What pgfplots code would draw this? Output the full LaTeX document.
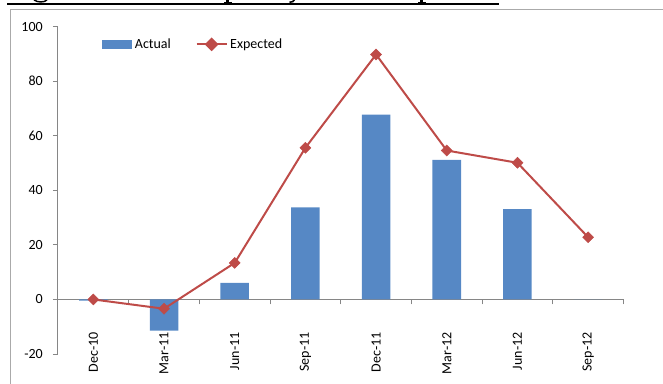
\documentclass[border=0pt]{standalone}
\usepackage{fontspec}
\setmainfont{Carlito}
\usepackage{pgfplots}
\pgfplotsset{compat=1.18}
\definecolor{barblue}{RGB}{86,136,197}
\definecolor{linered}{RGB}{190,75,72}
\definecolor{axisgray}{RGB}{134,134,134}
\definecolor{framegray}{RGB}{170,170,170}

\begin{document}
\fontsize{10.5pt}{12pt}\selectfont
\begin{tikzpicture}[x=0.75pt,y=-0.75pt]
\useasboundingbox (0,0) rectangle (663,383);
\clip (0,0) rectangle (663,383);
% chart frame
\draw[framegray, line width=0.75pt] (10,9.5) rectangle (700,420);
% rule under the heading, with the feet of its descenders
\draw[black, line width=1.6pt] (7,4) -- (499,4);
\draw[black, line width=1.1pt] (34,0) .. controls (38,2.6) and (44,2.6) .. (47,0);
\fill[black] (226,-1) rectangle (229,3);
\fill[black] (223.5,2) rectangle (232,3.5);
\draw[black, line width=1.2pt] (295,-1) .. controls (294,1.5) and (292,2.3) .. (289.5,2.3);
\fill[black] (420,-1) rectangle (423,3);
\fill[black] (417.5,2) rectangle (426,3.5);

\begin{axis}[
  at={(43.5pt,-265.5pt)}, anchor=south west,
  scale only axis, width=424.1pt, height=245.5pt,
  xmin=-0.5, xmax=7.5, ymin=-20, ymax=100,
  axis x line=middle, axis y line=left,
  axis line style={-, axisgray, line width=0.75pt},
  hide obscured x ticks=false, hide obscured y ticks=false,
  xtick={-0.5,0.5,...,7.5}, xticklabels={},
  ytick={-20,0,...,100},
  tick align=outside, major tick length=3.75pt,
  tick style={axisgray, line width=0.75pt},
  yticklabel style={anchor=east, inner sep=0pt, xshift=-7.5pt},
  /pgf/number format/assume math mode=true,
  clip=false,
  legend style={at={(0.0778,0.946)}, anchor=west, draw=none, fill=none,
    inner sep=0pt, legend columns=2,
    nodes={inner sep=1pt},
    /tikz/every odd column/.append style={column sep=1pt},
    /tikz/every even column/.append style={column sep=17.5pt}},
  legend cell align=left,
]
\addplot[ybar, bar width=21.4pt, bar shift=0pt, fill=barblue, draw=none,
  legend image code/.code={\fill[barblue] (0pt,-3.4pt) rectangle (22.5pt,3.4pt);}]
  coordinates {(0,-0.4) (1,-11.4) (2,6.1) (3,33.8) (4,67.8) (5,51.2) (6,33.1) (7,0)};
\addlegendentry{Actual}
\addplot[linered, line width=1.5pt, mark=square*,
  mark size=2.9pt, mark options={rotate=45, solid, fill=linered, line width=0.4pt},
  legend image code/.code={\draw[linered, line width=1.5pt] (0pt,0pt) -- (22.5pt,0pt);
    \fill[linered, rotate around={45:(11.25pt,0pt)}] (8.35pt,-2.9pt) rectangle (14.15pt,2.9pt);}]
  coordinates {(0,0) (1,-3.4) (2,13.4) (3,55.6) (4,89.8) (5,54.6) (6,50.1) (7,22.8)};
\addlegendentry{Expected}

% category names, rotated below the zero line
\begin{scope}[every node/.style={rotate=90, anchor=east, inner sep=0pt}]
  \node at ([yshift=-24.5pt]axis cs:0,0) {Dec-10};
  \node at ([yshift=-24.5pt]axis cs:1,0) {Mar-11};
  \node at ([yshift=-24.5pt]axis cs:2,0) {Jun-11};
  \node at ([yshift=-24.5pt]axis cs:3,0) {Sep-11};
  \node at ([yshift=-24.5pt]axis cs:4,0) {Dec-11};
  \node at ([yshift=-24.5pt]axis cs:5,0) {Mar-12};
  \node at ([yshift=-24.5pt]axis cs:6,0) {Jun-12};
  \node at ([yshift=-24.5pt]axis cs:7,0) {Sep-12};
\end{scope}
\end{axis}
\end{tikzpicture}
\end{document}
